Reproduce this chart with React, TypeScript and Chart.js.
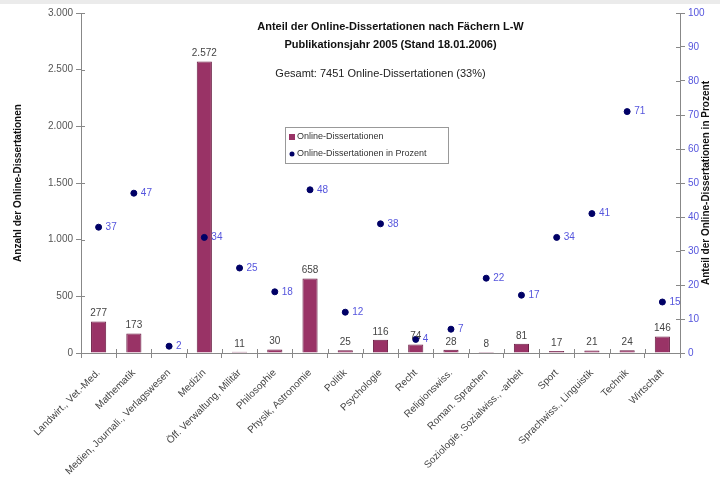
import React, { useEffect, useRef } from "react";
import { Chart, registerables } from "chart.js";

Chart.register(...registerables);

const categories = [
  "Landwirt., Vet.-Med.",
  "Mathematik",
  "Medien, Journali., Verlagswesen",
  "Medizin",
  "Öff. Verwaltung, Militär",
  "Philosophie",
  "Physik, Astronomie",
  "Politik",
  "Psychologie",
  "Recht",
  "Religionswiss.",
  "Roman. Sprachen",
  "Soziologie, Sozialwiss., -arbeit",
  "Sport",
  "Sprachwiss., Linguistik",
  "Technik",
  "Wirtschaft",
];

const counts: (number | null)[] = [277, 173, null, 2572, 11, 30, 658, 25, 116, 74, 28, 8, 81, 17, 21, 24, 146];
const percents = [37, 47, 2, 34, 25, 18, 48, 12, 38, 4, 7, 22, 17, 34, 41, 71, 15];

const countTicks = { min: 0, max: 3000, step: 500 };
const percentTicks = { min: 0, max: 100, step: 10 };

const titleLines = [
  "Anteil der Online-Dissertationen nach Fächern L-W",
  "Publikationsjahr 2005 (Stand 18.01.2006)",
];
const subtitle = "Gesamt: 7451 Online-Dissertationen (33%)";
const leftAxisTitle = "Anzahl der Online-Dissertationen";
const rightAxisTitle = "Anteil der Online-Dissertationen in Prozent";
const legendLabels = ["Online-Dissertationen", "Online-Dissertationen in Prozent"];

const FONT = "'Liberation Sans', Arial, sans-serif";
const BAR_COLOR = "#993366";
const BAR_BORDER = "#6b1f45";
const POINT_COLOR = "#000066";
const BLUE_TEXT = "#5555dd";
const AXIS_COLOR = "#888888";

const fmt = (v: number) => v.toLocaleString("de-DE");

const overlayPlugin = {
  id: "overlay",
  beforeDraw(chart: any) {
    const { ctx, width, height } = chart;
    ctx.save();
    ctx.fillStyle = "#ffffff";
    ctx.fillRect(0, 0, width, height);
    ctx.fillStyle = "#ebebeb";
    ctx.fillRect(0, 0, width, 4);
    ctx.restore();
  },
  afterDraw(chart: any) {
    const { ctx, chartArea, scales } = chart;
    ctx.save();
    // inner tick marks (crossing axes)
    ctx.strokeStyle = AXIS_COLOR;
    ctx.lineWidth = 1;
    ctx.beginPath();
    scales.y.ticks.forEach((_t: any, i: number) => {
      const py = Math.round(scales.y.getPixelForTick(i)) + 0.5;
      ctx.moveTo(chartArea.left, py);
      ctx.lineTo(chartArea.left + 4, py);
    });
    scales.y1.ticks.forEach((_t: any, i: number) => {
      const py = Math.round(scales.y1.getPixelForTick(i)) + 0.5;
      ctx.moveTo(chartArea.right, py);
      ctx.lineTo(chartArea.right - 4, py);
    });
    const n = categories.length;
    const step = (chartArea.right - chartArea.left) / n;
    for (let i = 0; i <= n; i++) {
      const px = Math.round(chartArea.left + i * step) + 0.5;
      ctx.moveTo(px, chartArea.bottom);
      ctx.lineTo(px, chartArea.bottom - 4);
    }
    ctx.stroke();
    ctx.restore();
  },
  afterDatasetsDraw(chart: any) {
    const { ctx, chartArea } = chart;
    ctx.save();
    // bar labels
    const barMeta = chart.getDatasetMeta(0);
    ctx.font = `10px ${FONT}`;
    ctx.fillStyle = "#444444";
    ctx.textAlign = "center";
    ctx.textBaseline = "bottom";
    barMeta.data.forEach((el: any, i: number) => {
      const v = counts[i];
      if (v === null || v === undefined) return;
      ctx.fillText(fmt(v), el.x, el.y - 3);
    });
    // point labels
    const ptMeta = chart.getDatasetMeta(1);
    ctx.fillStyle = BLUE_TEXT;
    ctx.textAlign = "left";
    ctx.textBaseline = "middle";
    ptMeta.data.forEach((el: any, i: number) => {
      ctx.fillText(String(percents[i]), el.x + 7, el.y);
    });

    // titles
    const cx = (chartArea.left + chartArea.right) / 2;
    ctx.fillStyle = "#111111";
    ctx.textAlign = "center";
    ctx.textBaseline = "middle";
    ctx.font = `bold 11px ${FONT}`;
    ctx.fillText(titleLines[0], cx + 10, chartArea.top + 14);
    ctx.fillText(titleLines[1], cx + 10, chartArea.top + 32);
    ctx.font = `11px ${FONT}`;
    ctx.fillStyle = "#222222";
    ctx.fillText(subtitle, cx, chartArea.top + 61);

    // legend
    const lx = chartArea.left + 204;
    const ly = chartArea.top + 114;
    ctx.fillStyle = "#ffffff";
    ctx.fillRect(lx, ly, 163, 36);
    ctx.strokeStyle = "#999999";
    ctx.lineWidth = 1;
    ctx.strokeRect(lx + 0.5, ly + 0.5, 163, 36);
    ctx.fillStyle = BAR_COLOR;
    ctx.fillRect(lx + 4, ly + 7, 6, 6);
    ctx.fillStyle = POINT_COLOR;
    ctx.beginPath();
    ctx.arc(lx + 7, ly + 27, 2.5, 0, Math.PI * 2);
    ctx.fill();
    ctx.font = `9px ${FONT}`;
    ctx.textAlign = "left";
    ctx.fillStyle = "#333333";
    ctx.fillText(legendLabels[0], lx + 12, ly + 10);
    ctx.fillText(legendLabels[1], lx + 12, ly + 27);

    // axis titles
    const cy = (chartArea.top + chartArea.bottom) / 2;
    ctx.font = `bold 10px ${FONT}`;
    ctx.fillStyle = "#111111";
    ctx.textAlign = "center";
    ctx.textBaseline = "middle";
    ctx.save();
    ctx.translate(18, cy);
    ctx.rotate(-Math.PI / 2);
    ctx.fillText(leftAxisTitle, 0, 0);
    ctx.restore();
    ctx.save();
    ctx.translate(706, cy);
    ctx.rotate(-Math.PI / 2);
    ctx.fillText(rightAxisTitle, 0, 0);
    ctx.restore();
    ctx.restore();
  },
};

export default function App() {
  const ref = useRef<HTMLCanvasElement | null>(null);

  useEffect(() => {
    if (!ref.current) return;
    const chart = new Chart(ref.current, {
      type: "bar",
      data: {
        labels: categories,
        datasets: [
          {
            type: "bar",
            label: legendLabels[0],
            data: counts,
            backgroundColor: BAR_COLOR,
            borderColor: BAR_BORDER,
            borderWidth: 1,
            categoryPercentage: 0.86,
            barPercentage: 0.5,
            yAxisID: "y",
            order: 2,
          },
          {
            type: "line",
            label: legendLabels[1],
            data: percents,
            showLine: false,
            pointRadius: 3,
            pointBackgroundColor: POINT_COLOR,
            pointBorderColor: POINT_COLOR,
            borderColor: POINT_COLOR,
            yAxisID: "y1",
            order: 1,
          },
        ],
      },
      options: {
        responsive: false,
        animation: false,
        layout: { padding: { top: 13, left: 0, right: 0, bottom: 0 } },
        plugins: {
          legend: { display: false },
          title: { display: false },
          tooltip: { enabled: false },
        },
        scales: {
          x: {
            offset: true,
            grid: {
              offset: true,
              drawOnChartArea: false,
              tickLength: 5,
              color: AXIS_COLOR,
            },
            border: { color: AXIS_COLOR },
            ticks: {
              minRotation: 45,
              maxRotation: 45,
              autoSkip: false,
              color: "#444444",
              font: { family: FONT, size: 10 },
              padding: 9,
            },
            afterFit: (s: any) => {
              s.height = 131;
            },
          },
          y: {
            position: "left",
            min: countTicks.min,
            max: countTicks.max,
            grid: { drawOnChartArea: false, tickLength: 5, color: AXIS_COLOR },
            border: { color: AXIS_COLOR },
            ticks: {
              stepSize: countTicks.step,
              color: "#555555",
              font: { family: FONT, size: 10 },
              callback: (v: any) => fmt(Number(v)),
              padding: 3,
            },
            afterFit: (s: any) => {
              s.width = 81;
            },
          },
          y1: {
            position: "right",
            min: percentTicks.min,
            max: percentTicks.max,
            grid: { drawOnChartArea: false, tickLength: 5, color: AXIS_COLOR },
            border: { color: AXIS_COLOR },
            ticks: {
              stepSize: percentTicks.step,
              color: BLUE_TEXT,
              font: { family: FONT, size: 10 },
              padding: 3,
            },
            afterFit: (s: any) => {
              s.width = 40;
            },
          },
        },
      },
      plugins: [overlayPlugin],
    } as any);
    return () => chart.destroy();
  }, []);

  return (
    <div style={{ position: "fixed", left: 0, top: 0, width: 720, height: 484, background: "#fff" }}>
      <canvas ref={ref} width={720} height={484} style={{ display: "block" }} />
    </div>
  );
}
